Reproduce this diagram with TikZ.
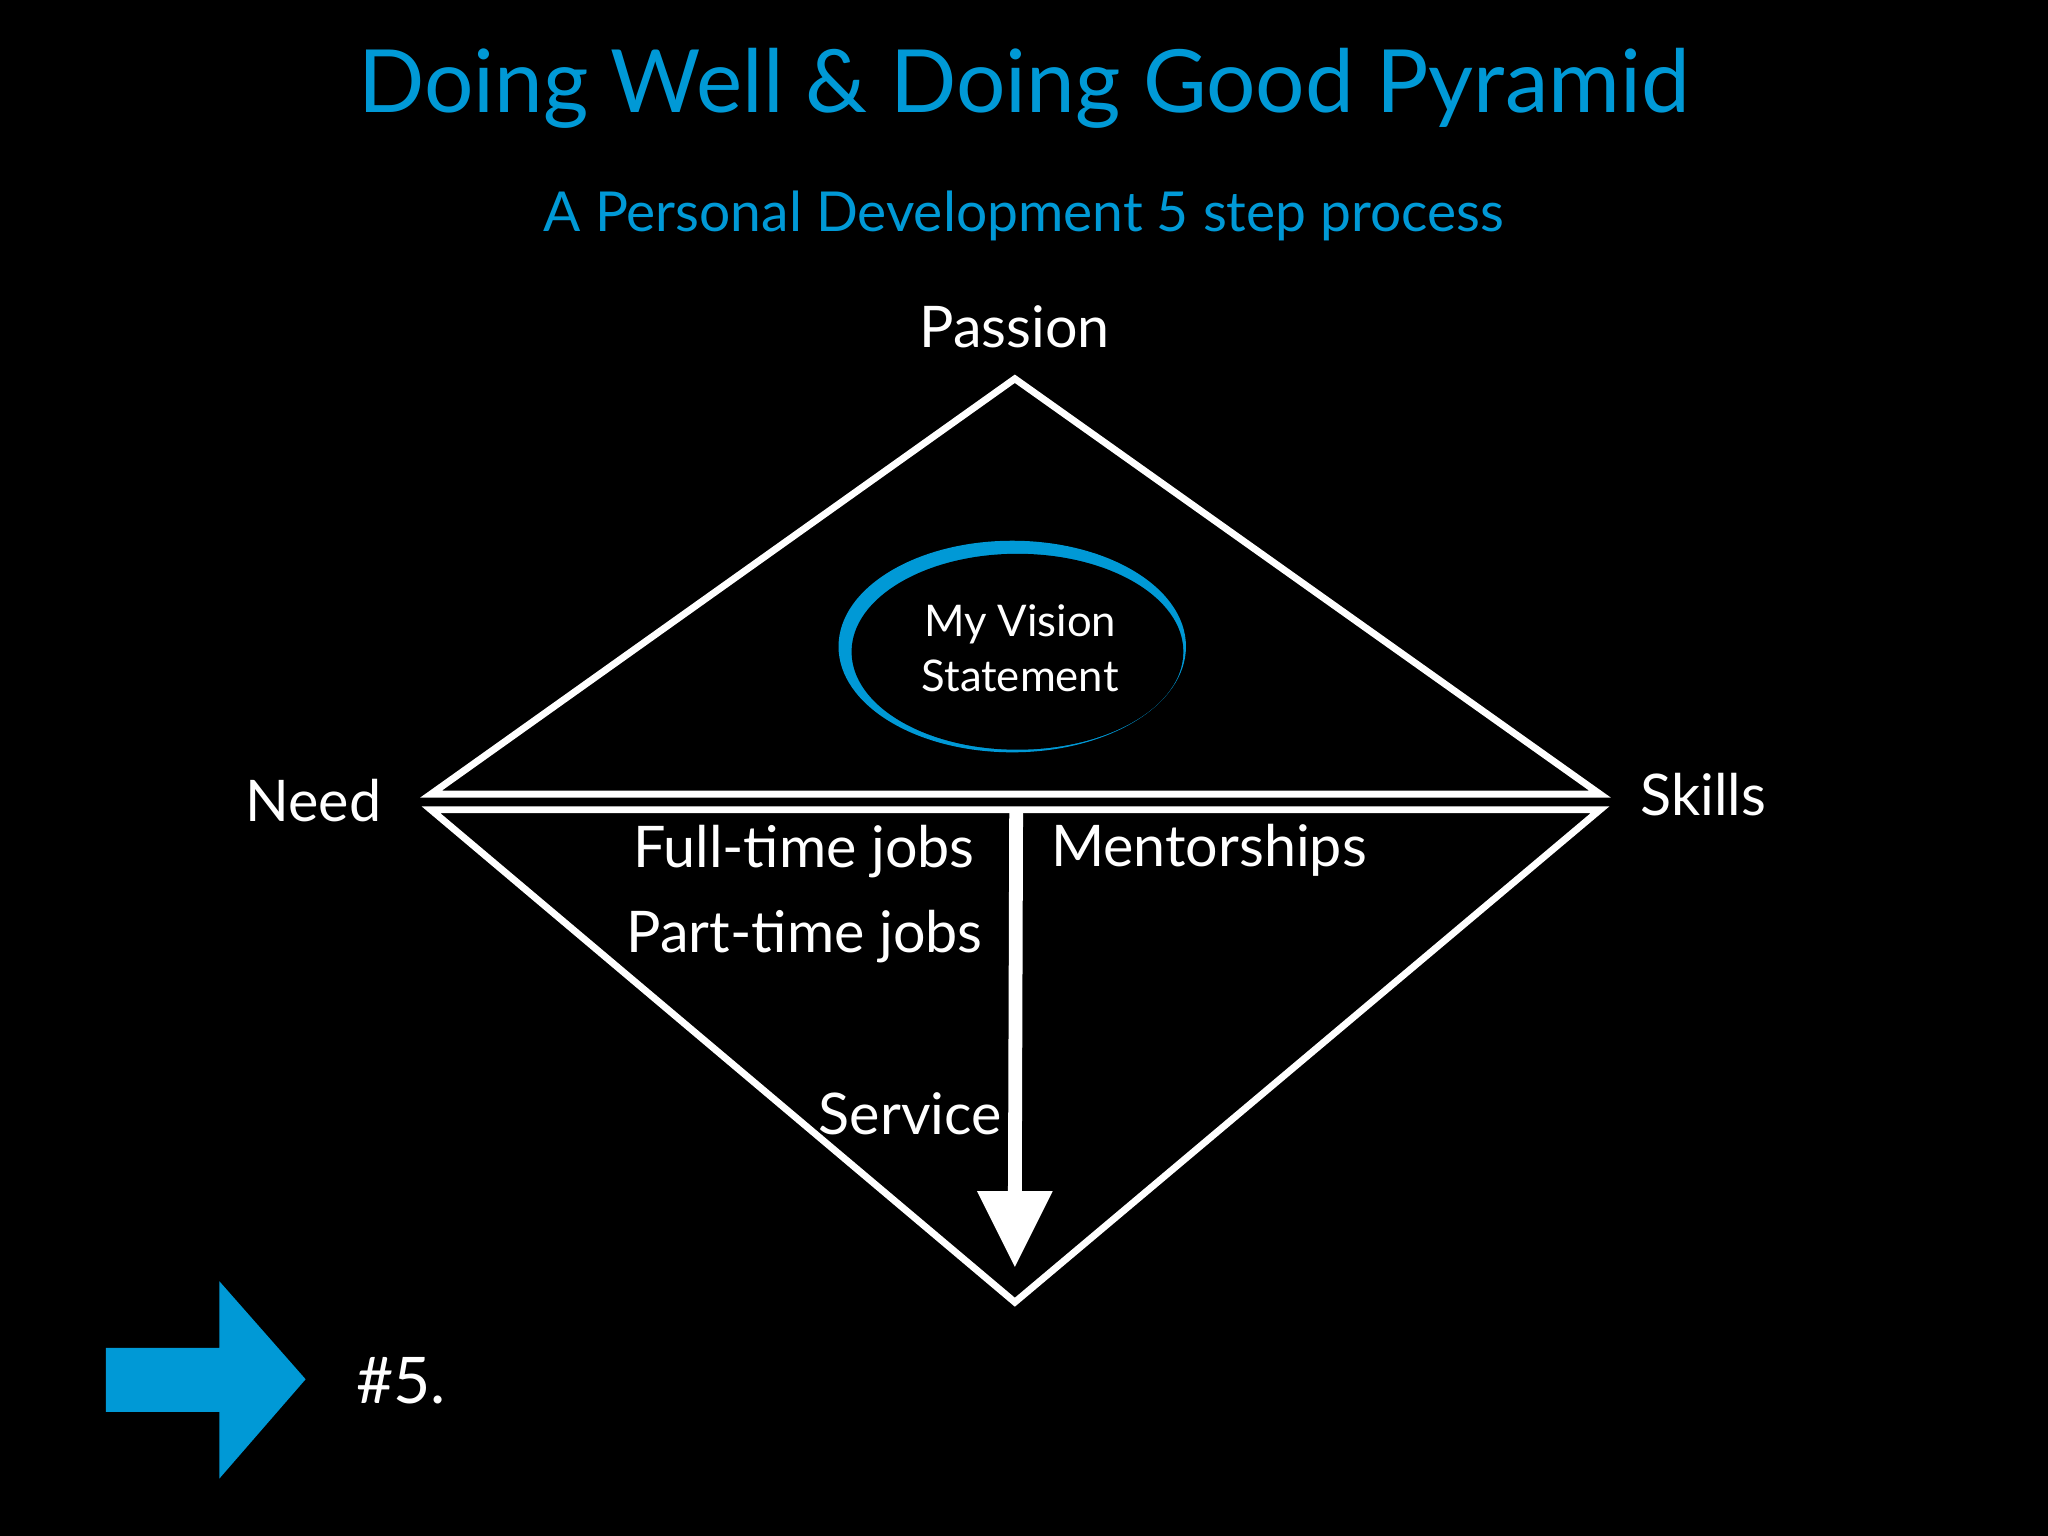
\documentclass[tikz,border=0pt]{standalone}
\usepackage{fontspec}
\setmainfont{Lato}
\definecolor{myblue}{HTML}{0099D6}
\begin{document}
\begin{tikzpicture}[x=0.01cm,y=-0.01cm,
  wl/.style={draw=white,line width=1.5pt,line join=miter},
  lbl/.style={text=white,font=\fontsize{12.5}{14}\selectfont,inner sep=0pt}]
\fill[black] (0,0) rectangle (1568,1176);
\useasboundingbox (0,0) rectangle (1568,1176);
\node[text=myblue,font=\fontsize{19}{22}\selectfont] (title) at (784,68) {Doing Well \& Doing Good Pyramid};
\node[text=myblue,font=\fontsize{12}{14}\selectfont] (sub) at (784,165) {A Personal Development 5 step process};
% triangles
\coordinate (apex) at (777,290);
\coordinate (tl) at (330,608);
\coordinate (tr) at (1225,608);
\coordinate (bl) at (330,620);
\coordinate (br) at (1225,620);
\coordinate (bot) at (777,997);
\draw[wl] (apex) -- (tr) -- (tl) -- cycle;
\draw[wl] (bl) -- (br) -- (bot) -- cycle;
% arrow
\coordinate (as) at (778,621);
\coordinate (ae) at (777,915);
\draw[white,line width=3pt] (as) -- (ae);
\fill[white] (748,912) -- (806,912) -- (777,970) -- cycle;
% ellipse
\fill[myblue] (775,495) ellipse [x radius=133,y radius=81];
\fill[black] (779,499) ellipse [x radius=127,y radius=75];
\node[text=white,font=\fontsize{9.5}{12}\selectfont,align=center] (vis) at (781,496) {My Vision\\Statement};
% labels
\node[lbl] (passion) at (777,250) {Passion};
\node[lbl] (need) at (240,613) {Need};
\node[lbl] (skills) at (1304,608) {Skills};
\node[lbl,anchor=east] (ft) at (747,652) {Full-time jobs};
\node[lbl,anchor=east] (pt) at (753,717) {Part-time jobs};
\node[lbl,anchor=west] (ment) at (804,651) {Mentorships};
\node[lbl] (serv) at (697,853) {Service};
% blue arrow
\fill[myblue] (81,1032) -- (168,1032) -- (168,981) -- (234,1056) -- (168,1132) -- (168,1081) -- (81,1081) -- cycle;
\node[text=white,font=\fontsize{14}{16}\selectfont] (five) at (307,1057) {\#5.};
\end{tikzpicture}
\end{document}
